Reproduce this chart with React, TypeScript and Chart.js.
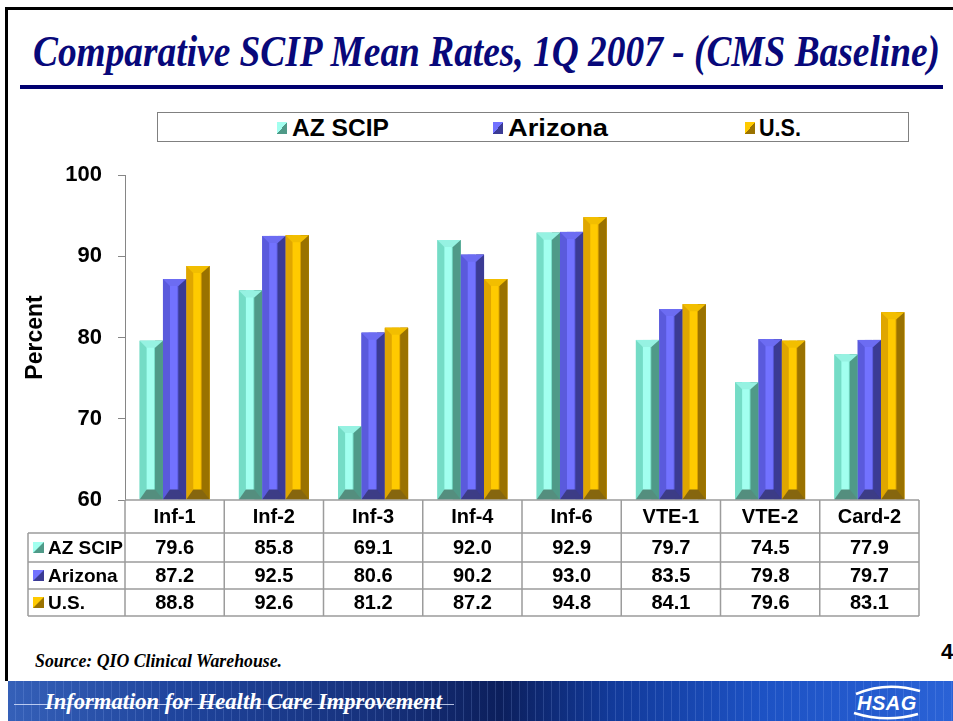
import React, { useEffect, useLayoutEffect, useRef } from "react";
import { Chart, registerables } from "chart.js";

Chart.register(...registerables);

// ---------- data ----------
const categories = ["Inf-1", "Inf-2", "Inf-3", "Inf-4", "Inf-6", "VTE-1", "VTE-2", "Card-2"];
const seriesNames = ["AZ SCIP", "Arizona", "U.S."];
const azScip = [79.6, 85.8, 69.1, 92.0, 92.9, 79.7, 74.5, 77.9];
const arizona = [87.2, 92.5, 80.6, 90.2, 93.0, 83.5, 79.8, 79.7];
const usRates = [88.8, 92.6, 81.2, 87.2, 94.8, 84.1, 79.6, 83.1];
const yMin = 60;
const yMax = 100;
const yStep = 10;

const titleText = "Comparative SCIP Mean Rates, 1Q 2007 - (CMS Baseline)";
const yTitle = "Percent";
const sourceText = "Source: QIO Clinical Warehouse.";
const footerText = "Information for Health Care Improvement";
const pageNumber = "4";

const palettes = [
  { mid: "#74DCC6", light: "#A2FFEF", dark: "#4F9A88", top: "#96F2E2", bottom: "#548E7E" },
  { mid: "#5A5ADC", light: "#7272FF", dark: "#3B3B94", top: "#6C6CF2", bottom: "#3C3C86" },
  { mid: "#DFA600", light: "#FFCA00", dark: "#9A7200", top: "#F2BE00", bottom: "#86660E" },
];

const SANS = "'Liberation Sans', Arial, Helvetica, sans-serif";
const SERIF = "'Liberation Serif', 'Times New Roman', serif";

// ---------- plugins ----------
const bevelPlugin = {
  id: "bevel3d",
  afterDatasetsDraw(chart: any) {
    const ctx = chart.ctx;
    const area = chart.chartArea;
    chart.data.datasets.forEach((_ds: any, di: number) => {
      const meta = chart.getDatasetMeta(di);
      const pal = palettes[di];
      meta.data.forEach((bar: any) => {
        const { x, y, base, width } = bar.getProps(["x", "y", "base", "width"], true);
        const w = width;
        const x0 = x - w / 2;
        const x1 = x + w / 2;
        const top = Math.max(y, area.top);
        const bot = Math.min(base, area.bottom);
        const h = bot - top;
        if (h <= 0) return;
        const capH = Math.min(7, h / 3);
        const baseH = Math.min(10, h / 3);
        const sL = x0 + 0.3 * w;
        const sR = x0 + 0.62 * w;
        const dL = x0 + 0.66 * w;
        ctx.save();
        ctx.fillStyle = pal.mid;
        ctx.fillRect(x0, top, w, h);
        ctx.fillStyle = pal.light;
        ctx.fillRect(sL, top, sR - sL, h);
        ctx.fillStyle = pal.dark;
        ctx.fillRect(dL, top, x1 - dL, h);
        // top bevel
        ctx.fillStyle = pal.top;
        ctx.beginPath();
        ctx.moveTo(x0, top);
        ctx.lineTo(x1, top);
        ctx.lineTo(dL, top + capH);
        ctx.lineTo(sL, top + capH);
        ctx.closePath();
        ctx.fill();
        // bottom bevel
        ctx.fillStyle = pal.bottom;
        ctx.beginPath();
        ctx.moveTo(x0, bot);
        ctx.lineTo(sL, bot - baseH);
        ctx.lineTo(dL, bot - baseH);
        ctx.lineTo(x1, bot);
        ctx.closePath();
        ctx.fill();
        ctx.restore();
      });
    });
  },
};

const drawIcon = (ctx: CanvasRenderingContext2D, x: number, y: number, s: number, pal: any) => {
  ctx.fillStyle = pal.light;
  ctx.fillRect(x, y, s, s);
  ctx.fillStyle = pal.dark;
  ctx.beginPath();
  ctx.moveTo(x + s, y);
  ctx.lineTo(x + s, y + s);
  ctx.lineTo(x, y + s);
  ctx.closePath();
  ctx.fill();
};

const tablePlugin = {
  id: "dataTable",
  afterDraw(chart: any) {
    const { ctx, chartArea } = chart;
    const xs = chart.scales.x;
    const left = chartArea.left;
    const right = chartArea.right;
    const b = chartArea.bottom;
    const rows = [b, b + 33, b + 62, b + 89, b + 116];
    const tableLeft = 28;
    const n = categories.length;
    const colW = (right - left) / n;
    const series = [azScip, arizona, usRates];
    ctx.save();
    ctx.strokeStyle = "#9c9c9c";
    ctx.lineWidth = 1.5;
    ctx.beginPath();
    ctx.moveTo(left, rows[0]);
    ctx.lineTo(right, rows[0]);
    for (let r = 1; r < rows.length; r++) {
      ctx.moveTo(tableLeft, rows[r]);
      ctx.lineTo(right, rows[r]);
    }
    for (let c = 0; c <= n; c++) {
      const xx = left + c * colW;
      ctx.moveTo(xx, rows[0]);
      ctx.lineTo(xx, rows[4]);
    }
    ctx.moveTo(tableLeft, rows[1]);
    ctx.lineTo(tableLeft, rows[4]);
    ctx.stroke();

    ctx.fillStyle = "#000";
    ctx.textBaseline = "middle";
    ctx.textAlign = "center";
    ctx.font = `bold 20px ${SANS}`;
    categories.forEach((cat, i) => {
      const cx = xs.getPixelForValue(i);
      ctx.fillText(cat, cx, (rows[0] + rows[1]) / 2 + 1);
    });
    series.forEach((vals, si) => {
      const cy = (rows[si + 1] + rows[si + 2]) / 2 + 1;
      vals.forEach((v, i) => {
        const cx = xs.getPixelForValue(i);
        ctx.fillText(v.toFixed(1), cx, cy);
      });
    });
    ctx.textAlign = "left";
    ctx.font = `bold 19px ${SANS}`;
    seriesNames.forEach((name, si) => {
      const cy = (rows[si + 1] + rows[si + 2]) / 2;
      drawIcon(ctx, 33, cy - 5.5, 11, palettes[si]);
      ctx.fillStyle = "#000";
      ctx.fillText(name, 48, cy + 1);
    });
    ctx.restore();
  },
};

// ---------- helpers ----------
function FitText(props: { text: string; left: number; top: number; width: number; style: React.CSSProperties }) {
  const ref = useRef<HTMLSpanElement>(null);
  useLayoutEffect(() => {
    const el = ref.current;
    if (!el) return;
    el.style.transform = "none";
    const w = el.getBoundingClientRect().width;
    if (w > 0) el.style.transform = `scaleX(${props.width / w})`;
  }, [props.text, props.width]);
  return (
    <span
      ref={ref}
      style={{
        position: "absolute",
        left: props.left,
        top: props.top,
        whiteSpace: "nowrap",
        transformOrigin: "0 0",
        ...props.style,
      }}
    >
      {props.text}
    </span>
  );
}

function LegendIcon({ pal, left, top }: { pal: any; left: number; top: number }) {
  return (
    <span
      style={{
        position: "absolute",
        left,
        top,
        width: 10,
        height: 12,
        background: `linear-gradient(to bottom right, ${pal.light} 50%, ${pal.dark} 50%)`,
      }}
    />
  );
}

// ---------- main ----------
export default function App() {
  const canvasRef = useRef<HTMLCanvasElement>(null);

  useEffect(() => {
    const canvas = canvasRef.current;
    if (!canvas) return;
    const seriesData = [azScip, arizona, usRates];
    const chart = new Chart(canvas, {
      type: "bar",
      data: {
        labels: categories,
        datasets: seriesNames.map((name, i) => ({
          label: name,
          data: seriesData[i],
          base: yMin,
          backgroundColor: palettes[i].mid,
          borderWidth: 0,
          categoryPercentage: 0.705,
          barPercentage: 1,
        })),
      },
      options: {
        responsive: false,
        animation: false,
        layout: { padding: { top: 80, bottom: 130, left: 0, right: 34 } },
        plugins: {
          legend: { display: false },
          tooltip: { enabled: false },
          title: { display: false },
        },
        scales: {
          x: { display: false },
          y: {
            min: yMin,
            max: yMax,
            ticks: {
              stepSize: yStep,
              color: "#000",
              padding: 16,
              font: { family: SANS, size: 22, weight: "bold" },
            },
            grid: { drawOnChartArea: false, drawTicks: true, tickLength: 7, color: "#868686" },
            border: { display: true, color: "#868686", width: 1 },
            title: {
              display: true,
              text: yTitle,
              color: "#000",
              font: { family: SANS, size: 23, weight: "bold" },
              padding: { top: 22, bottom: 0 },
            },
            afterFit: (s: any) => {
              s.width = 125;
            },
          },
        },
      } as any,
      plugins: [bevelPlugin, tablePlugin],
    });
    return () => chart.destroy();
  }, []);

  const legendIconX = [277, 493, 745];
  const legendTextX = [292, 508, 759];
  const legendTextW = [97, 100, 42];

  return (
    <div
      style={{
        position: "fixed",
        left: 0,
        top: 0,
        width: 953,
        height: 721,
        background: "#fff",
        overflow: "hidden",
      }}
    >
      {/* slide frame */}
      <div style={{ position: "absolute", left: 5, top: 7, width: 2.5, height: 674, background: "#000" }} />
      <div style={{ position: "absolute", left: 5, top: 7, width: 948, height: 2.5, background: "#000" }} />

      {/* title */}
      <FitText
        text={titleText}
        left={33}
        top={30}
        width={907}
        style={{ fontFamily: SERIF, fontStyle: "italic", fontWeight: "bold", fontSize: 44, lineHeight: "44px", color: "#08087a" }}
      />
      <div style={{ position: "absolute", left: 20, top: 85, width: 923, height: 4, background: "#000070" }} />

      {/* legend */}
      <div
        style={{
          position: "absolute",
          left: 157,
          top: 112,
          width: 752,
          height: 30,
          border: "1.5px solid #808080",
          boxSizing: "border-box",
        }}
      />
      {seriesNames.map((name, i) => (
        <React.Fragment key={name}>
          <LegendIcon pal={palettes[i]} left={legendIconX[i]} top={122} />
          <FitText
            text={name}
            left={legendTextX[i]}
            top={115}
            width={legendTextW[i]}
            style={{ fontFamily: SANS, fontWeight: "bold", fontSize: 24, lineHeight: "26px", color: "#000" }}
          />
        </React.Fragment>
      ))}

      {/* chart + table */}
      <canvas
        ref={canvasRef}
        width={953}
        height={535}
        style={{ position: "absolute", left: 0, top: 95, width: 953, height: 535 }}
      />

      {/* source */}
      <FitText
        text={sourceText}
        left={35}
        top={651}
        width={247}
        style={{ fontFamily: SERIF, fontStyle: "italic", fontWeight: "bold", fontSize: 19, lineHeight: "19px", color: "#000" }}
      />
      <div
        style={{
          position: "absolute",
          left: 941,
          top: 640,
          fontFamily: SANS,
          fontWeight: "bold",
          fontSize: 22,
          lineHeight: "24px",
          color: "#000",
        }}
      >
        {pageNumber}
      </div>

      {/* footer banner */}
      <div
        style={{
          position: "absolute",
          left: 8,
          top: 681,
          width: 945,
          height: 40,
          background:
            "linear-gradient(90deg, #3560b8 0%, #1f449c 18%, #16307a 40%, #0c1f5c 52%, #123a9a 64%, #1d52c4 80%, #2a62d6 100%)",
          overflow: "hidden",
        }}
      >
        <div
          style={{
            position: "absolute",
            left: 0,
            top: 0,
            width: "100%",
            height: "100%",
            background:
              "repeating-linear-gradient(90deg, rgba(255,255,255,0) 0px, rgba(255,255,255,0) 7px, rgba(160,190,255,0.18) 7px, rgba(160,190,255,0.18) 8px)",
          }}
        />
        <div style={{ position: "absolute", left: 6, top: 23, width: 440, height: 1, background: "rgba(220,230,255,0.8)" }} />
      </div>
      <FitText
        text={footerText}
        left={45}
        top={689}
        width={397}
        style={{ fontFamily: SERIF, fontStyle: "italic", fontWeight: "bold", fontSize: 24, lineHeight: "24px", color: "#fff" }}
      />
      <svg style={{ position: "absolute", left: 848, top: 683 }} width={80} height={38}>
        <path d="M 8 11 Q 38 -2 72 8" stroke="#fff" strokeWidth={2.5} fill="none" />
        <path d="M 6 30 Q 38 40 70 31" stroke="#fff" strokeWidth={2.5} fill="none" />
      </svg>
      <div
        style={{
          position: "absolute",
          left: 857,
          top: 692,
          fontFamily: SANS,
          fontStyle: "italic",
          fontWeight: "bold",
          fontSize: 20,
          lineHeight: "22px",
          color: "#fff",
          letterSpacing: 0.5,
        }}
      >
        HSAG
      </div>
    </div>
  );
}
